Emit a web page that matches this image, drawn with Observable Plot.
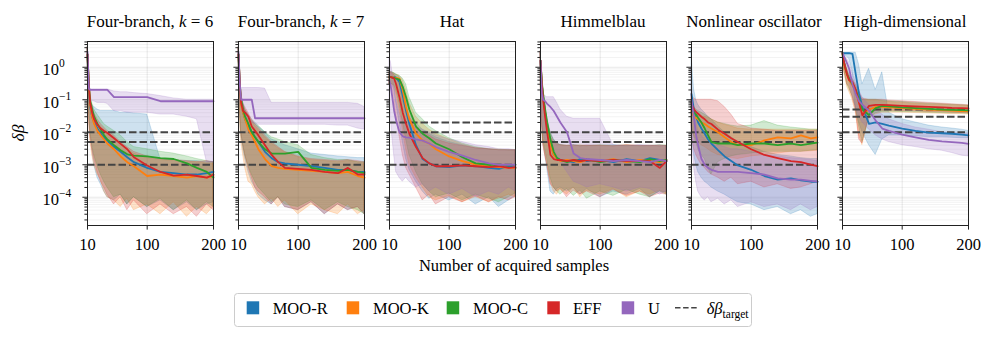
<!DOCTYPE html>
<html><head><meta charset="utf-8">
<script src="https://cdn.jsdelivr.net/npm/d3@7"></script>
<script src="https://cdn.jsdelivr.net/npm/@observablehq/plot@0.6"></script>
<style>
html,body{margin:0;padding:0;background:#fff;}
#root{position:relative;width:996px;height:342px;overflow:hidden;font-family:'Liberation Serif','Times New Roman','DejaVu Serif',serif;}
#root svg{position:absolute;}
#root svg, #root svg text{font-family:'Liberation Serif','Times New Roman','DejaVu Serif',serif !important;}
</style></head>
<body><div id="root"></div>
<script>
// ---------------- data ----------------
const N = [10, 12, 14, 17, 20, 25, 30, 35, 40, 50, 60, 70, 80, 100, 120, 140, 160, 175, 190, 200];

const methodNames = ["MOO-R", "MOO-K", "MOO-C", "EFF", "U"];
const panelTitles = ["Four-branch, k = 6", "Four-branch, k = 7", "Hat", "Himmelblau", "Nonlinear oscillator", "High-dimensional"];
const xTicks = [10, 100, 200];
const yMajorTicks = [1, 0.1, 0.01, 0.001, 0.0001];
const yTickExponents = ["0", "−1", "−2", "−3", "−4"];

// Four-branch, k = 6
const fb6_R = [2.5, .2, .06, .03, .02, .013, .009, .007, .0055, .0035, .0025, .0017, .0012, 8e-4, 6e-4, 5.5e-4, 5e-4, 5e-4, 5.5e-4, 6e-4];
const fb6_R_lo = [1.5, .05, .01, .003, .001, 4e-4, 2.5e-4, 1.5e-4, 1e-4, 8e-5, 1.2e-4, 6e-5, 1e-4, 5e-5, 8e-5, 4e-5, 7e-5, 4e-5, 6e-5, 7e-5];
const fb6_R_hi = [4, .3, .1, .07, .06, .05, .045, .045, .045, .045, .04, .04, .038, .035, .0015, .0014, .0013, .0013, .0012, .0012];
const fb6_K = [2.5, .25, .07, .03, .018, .011, .008, .006, .0045, .003, .0018, .0012, 9e-4, 4.5e-4, 5e-4, 4.5e-4, 4e-4, 4.5e-4, 4e-4, 4.5e-4];
const fb6_K_lo = [1.5, .03, .006, .002, 1e-3, 5e-4, 3.5e-4, 1.5e-4, 1e-4, 8e-5, 5e-5, 9e-5, 4e-5, 6e-5, 3e-5, 7e-5, 2.5e-5, 5e-5, 3e-5, 5e-5];
const fb6_K_hi = [4, .45, .11, .06, .035, .02, .015, .012, .01, .007, .0045, .003, .0022, .0016, .0014, .0013, .0012, .0012, .0011, .0011];
const fb6_C = [2.5, .3, .09, .05, .03, .018, .012, .008, .006, .004, .0028, .0021, .0019, .0018, .0016, .0015, .0011, 8e-4, 6e-4, 4e-4];
const fb6_C_lo = [1.5, .06, .012, .004, .002, 9e-4, 5e-4, 3e-4, 2e-4, 1e-4, 1.2e-4, 6e-5, 1e-4, 5e-5, 9e-5, 4e-5, 8e-5, 4e-5, 7e-5, 5e-5];
const fb6_C_hi = [4, .6, .15, .08, .05, .035, .025, .018, .015, .011, .008, .005, .0035, .003, .0025, .0022, .0018, .0015, .0013, .0012];
const fb6_E = [2.5, .3, .08, .04, .025, .017, .013, .011, .0095, .0065, .0044, .003, .0017, 9.5e-4, 6e-4, 4.6e-4, 5e-4, 4.5e-4, 4e-4, 5e-4];
const fb6_E_lo = [1.5, .03, .008, .003, .0015, 6e-4, 3e-4, 2e-4, 1.2e-4, 6e-5, 1e-4, 4e-5, 8e-5, 3e-5, 6e-5, 3e-5, 5e-5, 2.5e-5, 6e-5, 4e-5];
const fb6_E_hi = [4, .5, .12, .07, .04, .025, .018, .014, .011, .008, .005, .0035, .0025, .0018, .0015, .0014, .0013, .0012, .0013, .0012];
const fb6_U = [3, .22, .2, .2, .2, .2, .2, .2, .2, .12, .12, .12, .12, .12, .09, .09, .09, .09, .09, .09];
const fb6_U_lo = [1.5, .12, .1, .09, .09, .08, .08, .08, .075, .045, .045, .04, .04, .04, .035, .035, .03, .025, .0012, .0012];
const fb6_U_hi = [4, .3, .22, .21, .21, .21, .21, .21, .21, .18, .17, .17, .16, .15, .13, .11, .1, .1, .1, .1];
const fb6_targets = [1e-2, 5e-3, 1e-3];

// Four-branch, k = 7
const fb7_R = [2.5, .2, .08, .04, .025, .015, .01, .007, .005, .0025, .0016, .0012, .0011, .001, 9e-4, 8e-4, 7e-4, 7e-4, 6e-4, 6e-4];
const fb7_R_lo = [1.5, .04, .008, .003, .0015, 6e-4, 3e-4, 2e-4, 1.2e-4, 8e-5, 6e-5, 1e-4, 5e-5, 4e-5, 7e-5, 3e-5, 6e-5, 4e-5, 5e-5, 3e-5];
const fb7_R_hi = [4, .5, .15, .08, .05, .03, .022, .018, .015, .01, .006, .005, .004, .003, .0022, .002, .0018, .0017, .0016, .0016];
const fb7_K = [2.5, .25, .07, .04, .025, .012, .008, .005, .003, .0015, 9e-4, 8e-4, 7.5e-4, 7e-4, 6.5e-4, 6e-4, 5.5e-4, 6e-4, 4.5e-4, 4e-4];
const fb7_K_lo = [1.5, .03, .005, .002, 8e-4, 3e-4, 2.5e-4, 1.5e-4, 1e-4, 6e-5, 9e-5, 5e-5, 8e-5, 3e-5, 6e-5, 4e-5, 3e-5, 6e-5, 3e-5, 4e-5];
const fb7_K_hi = [4, .4, .13, .07, .05, .035, .022, .016, .012, .007, .0045, .0032, .0024, .0017, .0014, .0013, .0012, .0013, .0012, .0011];
const fb7_C = [2.5, .3, .1, .05, .03, .018, .01, .007, .005, .003, .0022, .0022, .0022, .0025, 8e-4, 7e-4, 6.5e-4, 7e-4, 6e-4, 5.5e-4];
const fb7_C_lo = [1.5, .05, .01, .004, .002, 9e-4, 5e-4, 3e-4, 2e-4, 1.2e-4, 7e-5, 1e-4, 6e-5, 5e-5, 8e-5, 4e-5, 7e-5, 5e-5, 4e-5, 3e-5];
const fb7_C_hi = [4, .5, .15, .08, .05, .035, .025, .02, .016, .01, .007, .006, .005, .004, .002, .0016, .0014, .0014, .0012, .0012];
const fb7_E = [2.5, .3, .08, .045, .04, .03, .015, .011, .008, .004, .002, .0012, 8e-4, 7.5e-4, 7e-4, 6e-4, 5.5e-4, 8e-4, 5e-4, 5e-4];
const fb7_E_lo = [1.5, .05, .01, .004, .002, 8e-4, 4e-4, 2e-4, 1.5e-4, 1e-4, 6e-5, 1e-4, 5e-5, 4e-5, 7e-5, 3e-5, 6e-5, 4e-5, 5e-5, 3e-5];
const fb7_E_hi = [4, .45, .15, .08, .06, .04, .025, .018, .014, .008, .005, .0035, .0025, .0018, .0015, .0014, .0013, .0014, .0013, .0012];
const fb7_U = [3, .3, .1, .1, .1, .1, .1, .027, .027, .027, .027, .027, .027, .027, .027, .027, .027, .027, .027, .027];
const fb7_U_lo = [1.5, .1, .06, .04, .03, .025, .02, .018, .017, .017, .017, .017, .017, .017, .017, .017, .016, .016, .013, .012];
const fb7_U_hi = [4, .4, .23, .23, .23, .23, .23, .23, .23, .22, .08, .08, .08, .08, .08, .08, .08, .08, .075, .06];
const fb7_targets = [1e-2, 5e-3, 1e-3];

// Hat
const hat_R = [.5, .5, .5, .5, .48, .35, .13, .045, .018, .004, .0015, .0011, 9e-4, 8.5e-4, 9.5e-4, 9e-4, 8e-4, 7.5e-4, 9e-4, 8e-4];
const hat_R_lo = [.3, .3, .3, .2, .08, .02, .005, .0015, 7e-4, 3e-4, 1.5e-4, 9e-5, 1.2e-4, 8e-5, 1.2e-4, 6e-5, 1e-4, 5e-5, 8e-5, 1.1e-4];
const hat_R_hi = [.7, .7, .7, .65, .6, .5, .3, .12, .05, .02, .012, .009, .007, .005, .004, .0032, .003, .0028, .0028, .0028];
const hat_K = [.5, .5, .5, .48, .47, .45, .2, .06, .025, .009, .0055, .0045, .003, .0018, .0013, .001, 9e-4, 8.5e-4, 8e-4, 8e-4];
const hat_K_lo = [.3, .3, .3, .25, .15, .05, .012, .003, .001, 4e-4, 2e-4, 1e-4, 8e-5, 1.1e-4, 7e-5, 1e-4, 7e-5, 9e-5, 1.2e-4, 1e-4];
const hat_K_hi = [.7, .7, .7, .65, .6, .55, .4, .2, .08, .03, .018, .012, .009, .006, .0042, .0033, .003, .0029, .0028, .0028];
const hat_C = [.5, .5, .48, .47, .45, .42, .25, .12, .05, .015, .009, .0065, .0045, .003, .0017, .0011, .001, .001, 9.5e-4, .001];
const hat_C_lo = [.3, .3, .3, .28, .2, .08, .02, .006, .002, 6e-4, 2.5e-4, 1.5e-4, 1e-4, 1.3e-4, 8e-5, 1.2e-4, 9e-5, 7e-5, 1e-4, 1.3e-4];
const hat_C_hi = [.7, .7, .7, .65, .6, .55, .45, .3, .12, .04, .025, .015, .011, .0065, .0045, .0035, .003, .0029, .0028, .0028];
const hat_E = [.5, .5, .48, .45, .3, .12, .04, .018, .009, .0035, .0016, .0011, 9e-4, 9e-4, 9.5e-4, 9e-4, 8.5e-4, 9e-4, 8e-4, 8.5e-4];
const hat_E_lo = [.3, .3, .25, .12, .03, .008, .002, 8e-4, 5e-4, 2e-4, 8e-5, 1.2e-4, 6e-5, 1e-4, 7e-5, 1.1e-4, 7e-5, 1e-4, 8e-5, 1e-4];
const hat_E_hi = [.7, .7, .65, .6, .5, .3, .1, .05, .03, .015, .01, .008, .006, .0045, .0038, .0032, .003, .0028, .0028, .0028];
const hat_U = [.38, .25, .13, .046, .023, .01, .0075, .007, .0068, .006, .0055, .0045, .0035, .0025, .0019, .0014, .0011, .001, .001, .001];
const hat_U_lo = [.1, .03, .008, .002, 6e-4, 4e-4, 3e-4, 4e-4, 3e-4, 2e-4, 2.5e-4, 1.5e-4, 2e-4, 1.2e-4, 1.8e-4, 1e-4, 1.5e-4, 1.2e-4, 2e-4, 1.5e-4];
const hat_U_hi = [1.8, 1.5, .8, .3, .1, .04, .025, .02, .018, .015, .012, .01, .008, .006, .005, .004, .0035, .003, .003, .0028];
const hat_targets = [2e-2, 1e-2, 1e-3];

// Himmelblau
const him_R = [1.6, .3, .12, .04, .015, .005, .002, .0016, .0014, .0013, .0012, .0015, .0013, .0014, .0012, .0015, .0013, .0016, .0014, .0013];
const him_R_lo = [.5, .02, .005, .002, 8e-4, 1.5e-4, 1.2e-4, 1.8e-4, 2e-4, 1.5e-4, 2e-4, 1.2e-4, 1.8e-4, 1e-4, 1.5e-4, 1.2e-4, 1.8e-4, 1e-4, 1.5e-4, 1.4e-4];
const him_R_hi = [3, .4, .15, .06, .025, .01, .006, .0045, .004, .0038, .004, .0037, .0039, .0038, .004, .0037, .0039, .0038, .0037, .0038];
const him_K = [1.6, .3, .12, .04, .015, .004, .002, .0015, .0013, .0014, .0013, .0012, .0014, .0013, .0015, .0012, .0014, .0013, .0012, .0014];
const him_K_lo = [.5, .02, .005, .002, .001, 3e-4, 1.5e-4, 1.2e-4, 1.8e-4, 1.2e-4, 2e-4, 1e-4, 1.6e-4, 1.2e-4, 1.8e-4, 1e-4, 1.5e-4, 1.2e-4, 1.6e-4, 1.3e-4];
const him_K_hi = [3, .4, .15, .06, .025, .009, .0055, .0045, .004, .0039, .0037, .004, .0038, .0039, .0037, .004, .0038, .0037, .0039, .0038];
const him_C = [1.6, .35, .15, .05, .02, .006, .0025, .0016, .0014, .0012, .0014, .0013, .0015, .0012, .0014, .0013, .0012, .0015, .0013, .0014];
const him_C_lo = [.5, .03, .006, .003, .0015, 4e-4, 2e-4, 1.5e-4, 1.2e-4, 1.8e-4, 1.1e-4, 1.6e-4, 9e-5, 1.5e-4, 1.1e-4, 1.7e-4, 1.2e-4, 1e-4, 1.5e-4, 1.2e-4];
const him_C_hi = [3, .45, .18, .07, .03, .01, .006, .0046, .0041, .0038, .004, .0039, .0037, .004, .0038, .0039, .0037, .0038, .004, .0039];
const him_E = [1.6, .3, .1, .03, .01, .002, .0015, .0014, .0014, .0013, .0014, .0013, .0014, .0013, .0014, .0013, .0013, .0013, 8e-4, .0013];
const him_E_lo = [.5, .02, .004, .002, .001, 2.5e-4, 2e-4, 1.5e-4, 1.8e-4, 1e-4, 1.6e-4, 1.2e-4, 1.5e-4, 1e-4, 1.7e-4, 1.1e-4, 1.5e-4, 1e-4, 1.3e-4, 1.2e-4];
const him_E_hi = [3, .35, .13, .05, .02, .007, .005, .0042, .004, .0038, .004, .0037, .0039, .0038, .0037, .004, .0038, .0039, .0037, .0038];
const him_U = [1.6, .15, .1, .09, .075, .06, .045, .03, .02, .01, .0022, .0016, .0015, .0014, .0013, .0014, .0013, .0012, .0014, .0013];
const him_U_lo = [.5, .03, .01, .006, .005, .004, .003, .002, .0012, 6e-4, 3e-4, 2.5e-4, 2e-4, 2.5e-4, 2e-4, 1.5e-4, 2e-4, 1.8e-4, 1.2e-4, 1.5e-4];
const him_U_hi = [3, .3, .15, .13, .12, .12, .12, .08, .05, .03, .026, .026, .026, .026, .004, .0038, .004, .0038, .004, .0037];
const him_targets = [1e-2, 5e-3, 1e-3];

// Nonlinear oscillator
const osc_R = [.15, .08, .045, .03, .02, .013, .009, .006, .0045, .0028, .0018, .0013, 9.5e-4, 7e-4, 4.5e-4, 3.5e-4, 3.8e-4, 3.3e-4, 3e-4, 3e-4];
const osc_R_lo = [.01, .005, .002, .001, 6e-4, 4e-4, 3e-4, 2.5e-4, 2e-4, 1.5e-4, 1.2e-4, 9e-5, 7e-5, 6e-5, 4e-5, 5e-5, 3e-5, 4e-5, 2.5e-5, 3e-5];
const osc_R_hi = [3.5, .6, .2, .1, .07, .05, .04, .03, .025, .015, .01, .007, .005, .0035, .0025, .002, .0018, .0016, .0015, .0015];
const osc_K = [.045, .035, .03, .028, .025, .02, .018, .015, .013, .01, .007, .005, .004, .004, .0056, .007, .0065, .008, .0065, .007];
const osc_K_lo = [.015, .01, .008, .006, .005, .004, .0035, .003, .0025, .002, .0018, .0016, .0015, .0018, .002, .0022, .0025, .0025, .0026, .0027];
const osc_K_hi = [.06, .05, .045, .04, .035, .03, .03, .028, .025, .02, .017, .015, .013, .012, .012, .012, .012, .012, .012, .012];
const osc_C = [.06, .045, .04, .035, .028, .02, .013, .008, .005, .0045, .0045, .0045, .004, .0045, .0045, .004, .0045, .004, .0045, .0048];
const osc_C_lo = [.02, .01, .007, .005, .003, .002, .0015, 8e-4, 5e-4, .0012, .0015, .0018, .002, .0022, .0025, .0025, .0025, .0025, .0027, .0028];
const osc_C_hi = [.08, .07, .06, .05, .045, .04, .035, .03, .025, .02, .018, .016, .015, .016, .022, .016, .014, .013, .012, .012];
const osc_E = [.08, .06, .05, .042, .037, .03, .025, .02, .018, .012, .009, .0065, .005, .003, .002, .0016, .0013, .0012, .001, 9e-4];
const osc_E_lo = [.01, .005, .003, .002, .0015, .001, 8e-4, 6e-4, 5e-4, 4e-4, 3e-4, 4e-4, 2.5e-4, 3e-4, 2e-4, 2.5e-4, 1.8e-4, 2e-4, 2.5e-4, 3e-4];
const osc_E_hi = [.15, .12, .11, .1, .1, .1, .1, .1, .1, .09, .06, .035, .018, .013, .012, .011, .011, .011, .011, .011];
const osc_U = [.1, .05, .025, .008, .004, .0015, .001, 8e-4, 7e-4, 6e-4, 6e-4, 6e-4, 6e-4, 5.5e-4, 5e-4, 3.8e-4, 3.5e-4, 3.5e-4, 3.2e-4, 3e-4];
const osc_U_lo = [.02, .003, 8e-4, 3e-4, 1.5e-4, 1e-4, 8e-5, 1e-4, 7e-5, 9e-5, 6e-5, 8e-5, 5e-5, 7e-5, 5e-5, 6e-5, 4e-5, 6e-5, 4e-5, 5e-5];
const osc_U_hi = [1, .1, .04, .02, .012, .008, .006, .005, .0045, .004, .0035, .003, .003, .0025, .002, .0018, .0016, .0015, .0014, .0013];
const osc_targets = [1e-2, 5e-3, 1e-3];

// High-dimensional
const hd_R = [2.7, 2.7, 2.7, 2.7, 2.7, 2.6, .6, .15, .06, .018, .02, .018, .016, .013, .011, .0098, .0093, .009, .0085, .008];
const hd_R_lo = [2.5, 2.4, 2.3, 2.1, 1.8, .8, .05, .02, .01, .004, .002, .006, .008, .008, .0075, .007, .007, .0068, .0065, .0065];
const hd_R_hi = [2.8, 2.8, 2.8, 2.8, 2.8, 2.8, 2.8, 1.2, .3, .9, .2, .7, .04, .025, .02, .016, .014, .013, .012, .011];
const hd_K = [2.7, 1.3, .9, .55, .4, .28, .18, .08, .035, .05, .06, .06, .058, .055, .052, .05, .048, .046, .045, .045];
const hd_K_lo = [2.5, .8, .5, .25, .18, .1, .04, .008, .004, .028, .035, .04, .04, .04, .039, .038, .037, .036, .036, .035];
const hd_K_hi = [2.8, 1.9, 1.3, .85, .55, .38, .22, .14, .1, .095, .095, .09, .085, .08, .075, .072, .07, .068, .066, .064];
const hd_C = [2.7, 1.5, 1, .6, .45, .3, .2, .1, .05, .034, .055, .065, .063, .058, .055, .052, .05, .049, .048, .047];
const hd_C_lo = [2.5, .9, .6, .3, .22, .13, .06, .015, .005, .025, .038, .043, .043, .042, .041, .04, .039, .038, .038, .037];
const hd_C_hi = [2.8, 2, 1.4, .9, .6, .42, .28, .16, .1, .1, .1, .095, .09, .085, .08, .076, .073, .07, .068, .066];
const hd_E = [2.7, 1.5, 1, .6, .4, .35, .2, .08, .033, .065, .07, .07, .068, .065, .062, .06, .058, .056, .055, .054];
const hd_E_lo = [2.5, .9, .6, .3, .25, .12, .05, .006, .0045, .03, .045, .046, .046, .045, .044, .042, .041, .04, .039, .039];
const hd_E_hi = [2.8, 2, 1.4, .9, .6, .45, .3, .18, .11, .1, .1, .1, .095, .09, .085, .08, .076, .073, .07, .068];
const hd_U = [2.7, 2.2, 1.8, 1.3, .9, .3, .15, .09, .07, .046, .023, .013, .011, .0085, .007, .0058, .0052, .005, .0047, .0044];
const hd_U_lo = [2.5, 1.6, 1.2, .7, .4, .15, .06, .03, .02, .012, .008, .006, .005, .004, .0035, .003, .0027, .0023, .0019, .0018];
const hd_U_hi = [2.8, 2.5, 2.2, 1.8, 1.4, .7, .35, .2, .12, .07, .05, .035, .025, .018, .014, .012, .01, .0095, .009, .009];
const hd_targets = [5e-2, 3e-2, 1e-2];

// ---------------- assembly ----------------
const colors = ["#1f77b4", "#ff7f0e", "#2ca02c", "#d62728", "#9467bd"];
const panels = [
  {med: [fb6_R, fb6_K, fb6_C, fb6_E, fb6_U], lo: [fb6_R_lo, fb6_K_lo, fb6_C_lo, fb6_E_lo, fb6_U_lo], hi: [fb6_R_hi, fb6_K_hi, fb6_C_hi, fb6_E_hi, fb6_U_hi], targets: fb6_targets},
  {med: [fb7_R, fb7_K, fb7_C, fb7_E, fb7_U], lo: [fb7_R_lo, fb7_K_lo, fb7_C_lo, fb7_E_lo, fb7_U_lo], hi: [fb7_R_hi, fb7_K_hi, fb7_C_hi, fb7_E_hi, fb7_U_hi], targets: fb7_targets},
  {med: [hat_R, hat_K, hat_C, hat_E, hat_U], lo: [hat_R_lo, hat_K_lo, hat_C_lo, hat_E_lo, hat_U_lo], hi: [hat_R_hi, hat_K_hi, hat_C_hi, hat_E_hi, hat_U_hi], targets: hat_targets},
  {med: [him_R, him_K, him_C, him_E, him_U], lo: [him_R_lo, him_K_lo, him_C_lo, him_E_lo, him_U_lo], hi: [him_R_hi, him_K_hi, him_C_hi, him_E_hi, him_U_hi], targets: him_targets},
  {med: [osc_R, osc_K, osc_C, osc_E, osc_U], lo: [osc_R_lo, osc_K_lo, osc_C_lo, osc_E_lo, osc_U_lo], hi: [osc_R_hi, osc_K_hi, osc_C_hi, osc_E_hi, osc_U_hi], targets: osc_targets},
  {med: [hd_R, hd_K, hd_C, hd_E, hd_U], lo: [hd_R_lo, hd_K_lo, hd_C_lo, hd_E_lo, hd_U_lo], hi: [hd_R_hi, hd_K_hi, hd_C_hi, hd_E_hi, hd_U_hi], targets: hd_targets}
];

const yDomain = [1.35e-5, 6.2];
const yMinorTicks = [];
for (const e of [-5, -4, -3, -2, -1, 0]) for (let k = 2; k <= 9; k++) {
  const v = k * Math.pow(10, e);
  if (v >= yDomain[0] && v <= yDomain[1]) yMinorTicks.push(v);
}

const FONT = "'Liberation Serif', 'Times New Roman', 'DejaVu Serif', serif";
const root = document.getElementById("root");
const panelLeft0 = 87, panelStep = 151, panelW = 126, panelTop = 41, panelH = 184;
const ML = 14, MR = 14, MT = 3, MB = 40;
const yScales = [];

panels.forEach((p, pi) => {
  const series = methodNames.map((name, mi) =>
    N.map((n, i) => ({n, med: p.med[mi][i], lo: p.lo[mi][i], hi: p.hi[mi][i], method: name})));
  const marks = [
    Plot.gridY(yMinorTicks, {stroke: "#000", strokeOpacity: 0.05}),
    Plot.gridY(yMajorTicks, {stroke: "#000", strokeOpacity: 0.09}),
    Plot.gridX([100], {stroke: "#000", strokeOpacity: 0.09})
  ];
  series.forEach((s, mi) => {
    marks.push(Plot.areaY(s, {x: "n", y1: "lo", y2: "hi", fill: colors[mi], fillOpacity: 0.22,
      stroke: colors[mi], strokeOpacity: 0.25, strokeWidth: 0.8}));
  });
  marks.push(Plot.ruleY(p.targets, {stroke: "#444", strokeWidth: 2, strokeDasharray: "7.5,3"}));
  series.forEach((s, mi) => {
    marks.push(Plot.line(s, {x: "n", y: "med", stroke: colors[mi], strokeWidth: 1.8}));
  });
  marks.push(Plot.frame({stroke: "#222", strokeWidth: 1}));
  marks.push(Plot.axisY(yMinorTicks, {tickSize: 2.6, tickFormat: () => "", label: null, stroke: "#222"}));
  marks.push(Plot.axisY(yMajorTicks, {tickSize: 4.6, tickFormat: () => "", label: null, stroke: "#222"}));
  marks.push(Plot.axisX(xTicks, {tickSize: 4.6, tickPadding: 8, tickFormat: d => String(d), label: null, stroke: "#222", fill: "#000"}));

  const chart = Plot.plot({
    width: panelW + ML + MR, height: panelH + MT + MB,
    marginLeft: ML, marginRight: MR, marginTop: MT, marginBottom: MB,
    x: {type: "linear", domain: [10, 200]},
    y: {type: "log", domain: yDomain},
    style: {background: "transparent", fontFamily: FONT, fontSize: "16.5px", color: "#000", overflow: "visible"},
    marks
  });
  chart.style.left = (panelLeft0 + pi * panelStep - ML) + "px";
  chart.style.top = (panelTop - MT) + "px";
  chart.style.fontFamily = FONT;
  root.appendChild(chart);
  yScales.push(chart.scale("y"));
});

// ---------------- overlay text & legend ----------------
const ov = d3.create("svg").attr("width", 996).attr("height", 342)
  .style("left", "0px").style("top", "0px").style("pointer-events", "none")
  .style("font-family", FONT);

// panel titles
panelTitles.forEach((t, i) => {
  const cx = panelLeft0 + i * panelStep + panelW / 2;
  const tx = ov.append("text").attr("x", cx).attr("y", 27.3).attr("text-anchor", "middle")
    .attr("font-size", 17).attr("fill", "#000");
  const m = t.match(/^(.*, )k( = \d)$/);
  if (m) {
    tx.append("tspan").text(m[1]);
    tx.append("tspan").attr("font-style", "italic").text("k");
    tx.append("tspan").text(m[2]);
  } else tx.text(t);
});

// y tick labels (first panel) positioned through the plot's own y scale
const ys = yScales[0];
yMajorTicks.forEach((v, i) => {
  const py = panelTop - MT + ys.apply(v);
  const t = ov.append("text").attr("x", 42.5).attr("y", py + 8.5).attr("font-size", 16.5).attr("fill", "#000");
  t.append("tspan").text("10");
  t.append("tspan").attr("font-size", 11.5).attr("dy", -8).text(yTickExponents[i]);
});

// y label
ov.append("text").attr("transform", "translate(24,133) rotate(-90)").attr("text-anchor", "middle")
  .attr("font-size", 17.5).attr("font-style", "italic").attr("fill", "#000").text("δβ");

// x label
ov.append("text").attr("x", 514).attr("y", 270.5).attr("text-anchor", "middle")
  .attr("font-size", 16.5).attr("fill", "#000").text("Number of acquired samples");

// legend
const lg = ov.append("g");
lg.append("rect").attr("x", 234.5).attr("y", 293.5).attr("width", 517).attr("height", 33).attr("rx", 3)
  .attr("fill", "#fff").attr("stroke", "#cccccc").attr("stroke-width", 1);
const sqX = [246.7, 346.7, 446.7, 547.3, 621.7];
const txX = [272.7, 373, 473, 573, 648];
methodNames.forEach((name, i) => {
  lg.append("rect").attr("x", sqX[i]).attr("y", 301.3).attr("width", 12.5).attr("height", 13).attr("fill", colors[i]);
  lg.append("text").attr("x", txX[i]).attr("y", 314.2).attr("font-size", 16.5).attr("fill", "#000").text(name);
});
lg.append("line").attr("x1", 675).attr("x2", 698).attr("y1", 307.8).attr("y2", 307.8)
  .attr("stroke", "#444").attr("stroke-width", 1.6).attr("stroke-dasharray", "5.5,2.6");
const lt = lg.append("text").attr("x", 706.7).attr("y", 314.2).attr("font-size", 16.5).attr("fill", "#000");
lt.append("tspan").attr("font-style", "italic").text("δβ");
lt.append("tspan").attr("font-size", 11.5).attr("dy", 3.5).text("target");

root.appendChild(ov.node());
</script>
</body></html>
